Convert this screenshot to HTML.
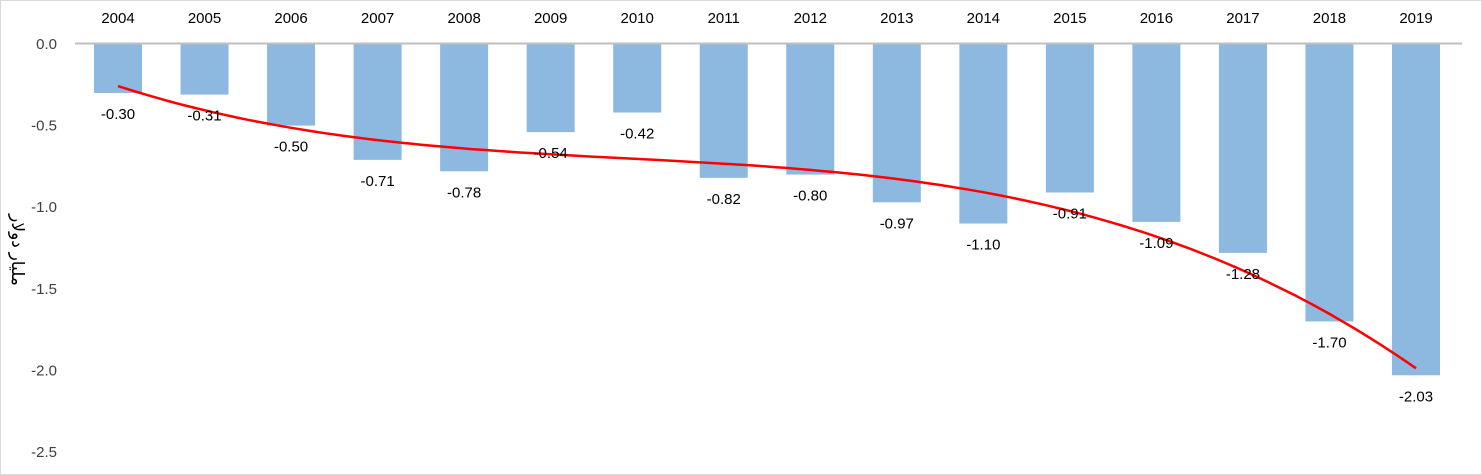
<!DOCTYPE html>
<html><head><meta charset="utf-8"><style>
body{margin:0;background:#fff;}
svg{display:block;font-family:"Liberation Sans",Calibri,sans-serif;}
</style></head><body>
<svg width="1482" height="475">
<rect x="0.5" y="0.5" width="1481" height="474" fill="#fff" stroke="#d9d9d9"/>
<g id="yt"></g>
<g id="bars"></g>
<line x1="75" y1="43.5" x2="1462" y2="43.5" stroke="#bfbfbf" stroke-width="2"/>
<g id="xl"></g>
<path id="trend" fill="none" stroke="#ff0000" stroke-width="2.5"/>
<g id="vl"></g>
<text transform="translate(12,250) rotate(90)" text-anchor="middle" font-size="17" font-family="'Liberation Sans','DejaVu Sans',sans-serif">مليار دولار</text>
</svg>
<script>
const years=["2004","2005","2006","2007","2008","2009","2010","2011","2012","2013","2014","2015","2016","2017","2018","2019"];
const values=[-0.30,-0.31,-0.50,-0.71,-0.78,-0.54,-0.42,-0.82,-0.80,-0.97,-1.10,-0.91,-1.09,-1.28,-1.70,-2.03];
const yTicks=[0,-0.5,-1,-1.5,-2,-2.5];
const NS="http://www.w3.org/2000/svg";
const x0=118,step=(1416-118)/15,bw=48;
const xs=i=>x0+i*step;
const ys=v=>44-v*163.2;
function mk(t,a,p){const e=document.createElementNS(NS,t);for(const k in a)e.setAttribute(k,a[k]);p.appendChild(e);return e;}
const yt=document.getElementById('yt');
yTicks.forEach(v=>{const t=mk('text',{x:57,y:ys(v)+5,'text-anchor':'end','font-size':15,fill:'#404040'},yt);


t.textContent=v.toFixed(1);});
const bars=document.getElementById('bars'),xl=document.getElementById('xl'),vl=document.getElementById('vl');
values.forEach((v,i)=>{
const r=mk('rect',{x:xs(i)-bw/2,y:ys(0),width:bw,height:ys(v)-ys(0),fill:'#8db8e0'},bars);


const t=mk('text',{x:xs(i),y:23,'text-anchor':'middle','font-size':15,fill:'#000'},xl);


t.textContent=years[i];
const l=mk('text',{x:xs(i),y:ys(v)+26,'text-anchor':'middle','font-size':15,fill:'#000'},vl);


l.textContent=v.toFixed(2);
});
// cubic polynomial trendline via least squares
const n=values.length,deg=3;
const A=[],b=[];
for(let r=0;r<=deg;r++){A.push([]);for(let c=0;c<=deg;c++){let s=0;for(let i=0;i<n;i++)s+=Math.pow(i+1,r+c);A[r].push(s);}let s=0;for(let i=0;i<n;i++)s+=values[i]*Math.pow(i+1,r);b.push(s);}
for(let k=0;k<=deg;k++){for(let r=k+1;r<=deg;r++){const f=A[r][k]/A[k][k];for(let c=k;c<=deg;c++)A[r][c]-=f*A[k][c];b[r]-=f*b[k];}}
const co=new Array(deg+1);
for(let k=deg;k>=0;k--){let s=b[k];for(let c=k+1;c<=deg;c++)s-=A[k][c]*co[c];co[k]=s/A[k][k];}
let d='';
for(let j=0;j<=150;j++){const t=j/150*(n-1);let y=0;for(let k=0;k<=deg;k++)y+=co[k]*Math.pow(t+1,k);d+=(j?'L':'M')+xs(t).toFixed(1)+' '+ys(y).toFixed(1);}
document.getElementById('trend').setAttribute('d',d);
</script>
</body></html>
